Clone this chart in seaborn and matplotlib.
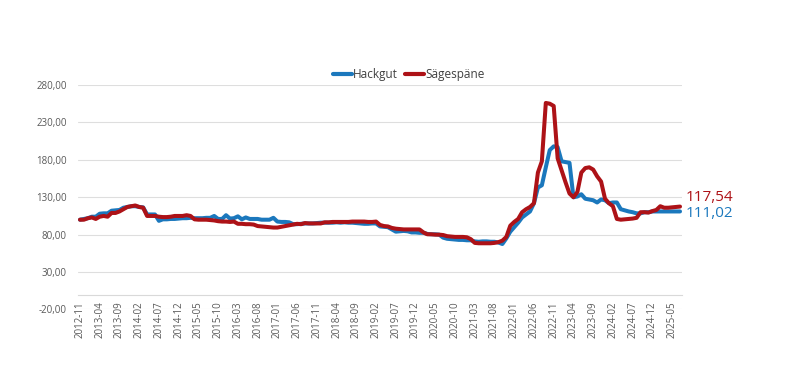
import matplotlib
matplotlib.use("Agg")
import matplotlib.pyplot as plt
import seaborn as sns
import pandas as pd
import numpy as np

# monthly index values, 2012-11 .. 2025-07
hackgut = [
    100, 101, 102, 104, 104, 108, 108.5, 108.5, 112, 112.5,
    113, 116, 117, 118, 118, 117, 116.5, 107, 107, 107,
    98.5, 100.5, 100.5, 101, 101, 101.5, 102, 102, 102.5, 102,
    102, 102, 102.5, 102.5, 105, 101, 101, 106, 101.5, 102,
    104.5, 100.5, 103, 101, 101, 101, 100, 100, 100, 102.5,
    97.5, 97, 97, 96.5, 94, 94, 94.5, 95, 95, 95,
    95.5, 96, 96, 96, 96, 96.5, 96, 96.5, 96, 96,
    95.5, 95, 94.5, 94.5, 95, 95, 91, 90.5, 90, 87,
    84, 84.5, 85, 84.5, 83, 83, 82.5, 82.5, 81, 80.5,
    80.5, 80, 76, 74.5, 74, 73.5, 73, 73, 72.5, 72.5,
    71, 70.5, 71, 71, 70.5, 70.5, 69.5, 67.5, 75, 84,
    90, 96, 103, 107, 111, 122, 143, 146, 170, 193,
    198, 197, 178, 177, 176, 130, 131, 134, 128, 127,
    126, 123, 127, 126, 122, 123, 123, 114, 112.5, 111,
    110, 108.5, 108.5, 110, 110, 111, 111, 111, 111, 111,
    111, 111, 111.02,
]
saegespaene = [
    100, 100, 102, 103, 101, 104, 105, 104, 109, 109,
    111, 114, 117, 118, 119, 117, 116, 105, 105, 105,
    104, 103.5, 103.5, 104, 105, 105, 105, 106, 105, 100.5,
    100, 100, 100, 99.5, 99, 98, 97.5, 97.5, 97, 97.5,
    94.5, 94.5, 94, 94, 93.5, 91.5, 91, 90.5, 90, 89.5,
    89.5, 90.5, 91.5, 92.5, 93.5, 94.5, 94, 95.5, 95, 95,
    95, 95, 96.5, 96.5, 97, 97, 97, 97, 97, 97.5,
    97.5, 97.5, 97.5, 97, 97, 97.5, 93, 91.5, 91, 89,
    88, 87.5, 87, 87, 87, 87, 87, 83, 80.5, 80.5,
    80, 80, 79.5, 78, 77.5, 77, 77, 77, 76.5, 74,
    69, 68.5, 68.5, 68.5, 68.5, 69, 70, 72, 77, 92,
    97, 101, 110, 114, 117, 122, 163, 178, 256, 255,
    252, 182, 166, 150, 135, 130, 137, 163, 169, 170,
    167, 158, 151, 128, 122, 118, 101, 100, 100.5, 101,
    101.5, 102.5, 110, 110, 109.5, 111.5, 113, 118, 116, 116,
    116.5, 117, 117.54,
]
months = pd.period_range("2012-11", periods=len(hackgut), freq="M").strftime("%Y-%m").tolist()
series_names = ["Hackgut", "Sägespäne"]
colors = {"Hackgut": "#1b78bd", "Sägespäne": "#ad1217"}
end_labels = ["111,02", "117,54"]
y_ticks = [-20, 30, 80, 130, 180, 230, 280]

df = pd.DataFrame({
    "idx": list(range(len(months))) * 2,
    "val": hackgut + saegespaene,
    "serie": ["Hackgut"] * len(hackgut) + ["Sägespäne"] * len(saegespaene),
})

sns.set_style("white")
plt.rcParams["font.family"] = ["Open Sans", "DejaVu Sans"]

fig = plt.figure(figsize=(8.05, 3.86), dpi=100)
ax = fig.add_axes([0.0969, 0.1982, 0.7503, 0.5816])

sns.lineplot(data=df, x="idx", y="val", hue="serie", hue_order=series_names,
             palette=colors, linewidth=2.9, ax=ax, legend=False)

# category axis sits at y=0 like in the original spreadsheet chart
for s in ["top", "right", "left"]:
    ax.spines[s].set_visible(False)
ax.spines["bottom"].set_position(("data", 0))
ax.spines["bottom"].set_color("#d9d9d9")
ax.spines["bottom"].set_linewidth(0.8)

ax.set_xlim(-0.5, len(months) - 0.5)
ax.set_ylim(-20, 280)
ax.set_yticks(y_ticks)
ax.set_yticklabels([f"{v:.2f}".replace(".", ",") for v in y_ticks],
                   fontsize=7, color="#595959")
ax.yaxis.grid(True, color="#dedede", linewidth=0.8)
ax.set_axisbelow(True)
ax.tick_params(axis="y", length=0, pad=8)

tick_pos = list(range(0, len(months), 5))
ax.set_xticks(tick_pos)
ax.set_xticklabels([months[i] for i in tick_pos], rotation=90,
                   fontsize=7, color="#595959")
ax.tick_params(axis="x", length=3, color="#d0d0d0", pad=2)
ax.set_xlabel("")
ax.set_ylabel("")

# end-of-line value labels
last = len(months) - 1
ax.annotate(end_labels[1], xy=(last, saegespaene[-1]), xytext=(4, 6.5),
            textcoords="offset points", va="center", ha="left",
            fontsize=11, color=colors["Sägespäne"], annotation_clip=False)
ax.annotate(end_labels[0], xy=(last, hackgut[-1]), xytext=(4, -1.5),
            textcoords="offset points", va="center", ha="left",
            fontsize=11, color=colors["Hackgut"], annotation_clip=False)

handles = [plt.Line2D([], [], color=colors[n], linewidth=3) for n in series_names]
fig.legend(handles, series_names, loc="center", bbox_to_anchor=(0.508, 0.806),
           ncol=2, frameon=False, fontsize=8.5, handlelength=1.6,
           handletextpad=0.1, columnspacing=0.6, labelcolor="#404040")

fig.savefig("out.png", dpi=100)
